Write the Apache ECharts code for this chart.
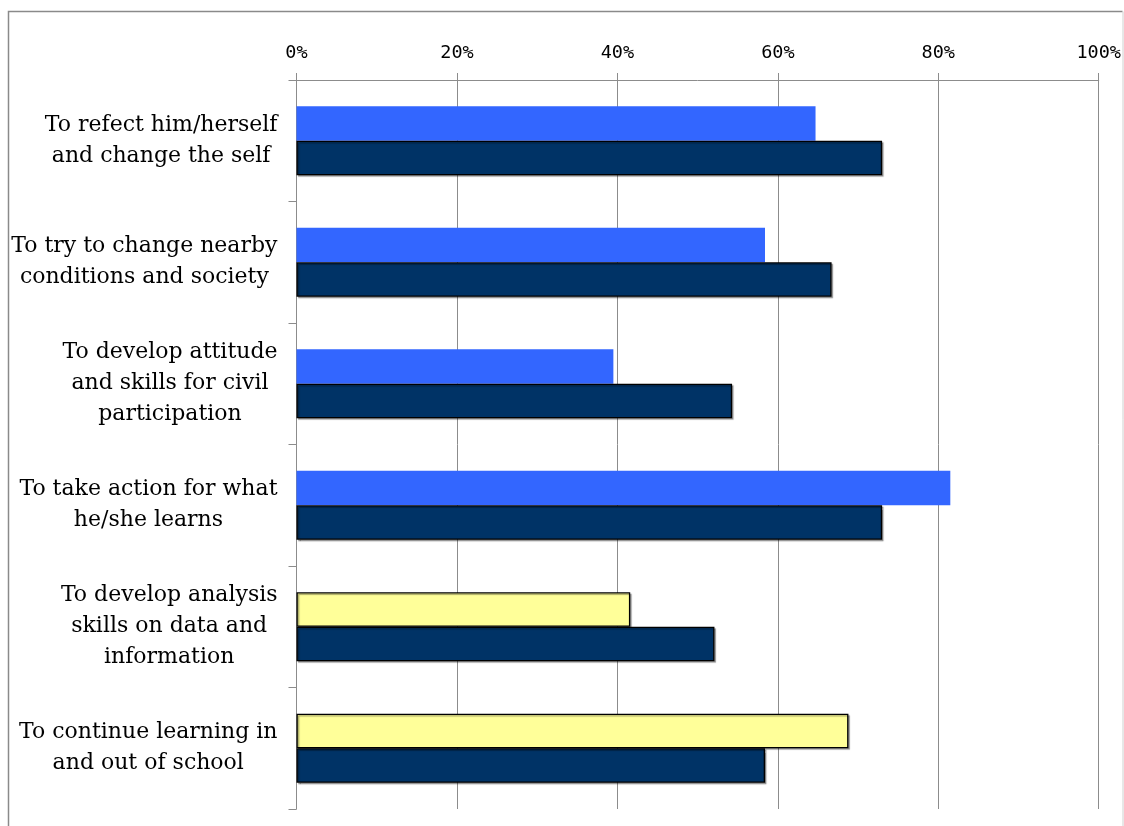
<!DOCTYPE html>
<html>
<head>
<meta charset="utf-8">
<style>
  html, body { margin: 0; padding: 0; background: #ffffff; }
  #chart { width: 1124px; height: 826px; }
</style>
<script src="https://cdn.jsdelivr.net/npm/echarts@6/dist/echarts.min.js"></script>
</head>
<body>
<div id="chart"></div>
<script>
// Survey items (top to bottom)
const categories = [
  'To refect him/herself\nand change the self',
  'To try to change nearby\nconditions and society',
  'To develop attitude\nand skills for civil\nparticipation',
  'To take action for what\nhe/she learns',
  'To develop analysis\nskills on data and\ninformation',
  'To continue learning in\nand out of school'
];

// Upper bar of each pair (percent)
const upperValues = [64.7, 58.4, 39.5, 81.5, 41.6, 68.8];
// Lower bar of each pair (percent)
const lowerValues = [73.0, 66.7, 54.3, 73.0, 52.1, 58.4];

// Fill of the upper bar per item: blue for the first four, pale yellow for the last two
const upperKinds = ['blue', 'blue', 'blue', 'blue', 'yellow', 'yellow'];

const tickValues = [0, 20, 40, 60, 80, 100];

const BLUE = '#3366ff';
const YELLOW = '#ffff99';
const NAVY = '#003366';
const GRID_GRAY = '#8c8c8c';

const upperData = upperValues.map((v, i) => {
  const yellow = upperKinds[i] === 'yellow';
  return {
    value: v,
    itemStyle: yellow
      ? { color: YELLOW, borderColor: '#000000', borderWidth: 1.3,
          shadowColor: 'rgba(0,0,0,0.35)', shadowOffsetX: 1.5, shadowOffsetY: 1.5, shadowBlur: 1 }
      : { color: BLUE, borderWidth: 0 }
  };
});

const chart = echarts.init(document.getElementById('chart'), null, { renderer: 'canvas' });

chart.setOption({
  animation: false,
  backgroundColor: '#ffffff',
  grid: { left: 296.5, right: 24, top: 80, bottom: 17, containLabel: false },
  xAxis: {
    type: 'value',
    position: 'top',
    min: 0,
    max: 100,
    interval: 20,
    axisLine: { show: true, lineStyle: { color: GRID_GRAY, width: 1 } },
    axisTick: { show: true, length: 7, lineStyle: { color: GRID_GRAY, width: 1 } },
    splitLine: { show: true, lineStyle: { color: GRID_GRAY, width: 1 } },
    axisLabel: {
      margin: 17,
      formatter: function (v) { return tickValues.indexOf(v) >= 0 ? v + '%' : ''; },
      fontFamily: 'DejaVu Sans Mono',
      fontSize: 18.5,
      color: '#000000'
    }
  },
  yAxis: {
    type: 'category',
    inverse: true,
    data: categories,
    axisLine: { show: true, lineStyle: { color: GRID_GRAY, width: 1 } },
    axisTick: { show: true, length: 8, lineStyle: { color: GRID_GRAY, width: 1 } },
    splitLine: { show: false },
    axisLabel: {
      margin: 19,
      align: 'right',
      formatter: function (v) {
        return v.split('\n').map(function (l) { return '{c|' + l + '}'; }).join('\n');
      },
      rich: {
        c: {
          align: 'center',
          fontFamily: 'DejaVu Serif',
          fontSize: 22,
          lineHeight: 31,
          color: '#000000'
        }
      }
    }
  },
  series: [
    {
      name: 'upper',
      type: 'bar',
      data: upperData,
      barWidth: 34.5,
      barGap: '0%'
    },
    {
      name: 'lower',
      type: 'bar',
      data: lowerValues,
      barWidth: 34.5,
      barGap: '0%',
      itemStyle: {
        color: NAVY, borderColor: '#000000', borderWidth: 1.3,
        shadowColor: 'rgba(0,0,0,0.35)', shadowOffsetX: 1.5, shadowOffsetY: 1.5, shadowBlur: 1
      }
    }
  ],
  graphic: [
    {
      type: 'polyline',
      silent: true,
      shape: { points: [[8.5, 830], [8.5, 11.5], [1122.5, 11.5]] },
      style: { fill: null, stroke: '#8a8a8a', lineWidth: 1.5 }
    },
    {
      type: 'line',
      silent: true,
      shape: { x1: 1123, y1: 11.5, x2: 1123, y2: 830 },
      style: { stroke: '#d0d0d0', lineWidth: 1 }
    }
  ]
});
</script>
</body>
</html>
